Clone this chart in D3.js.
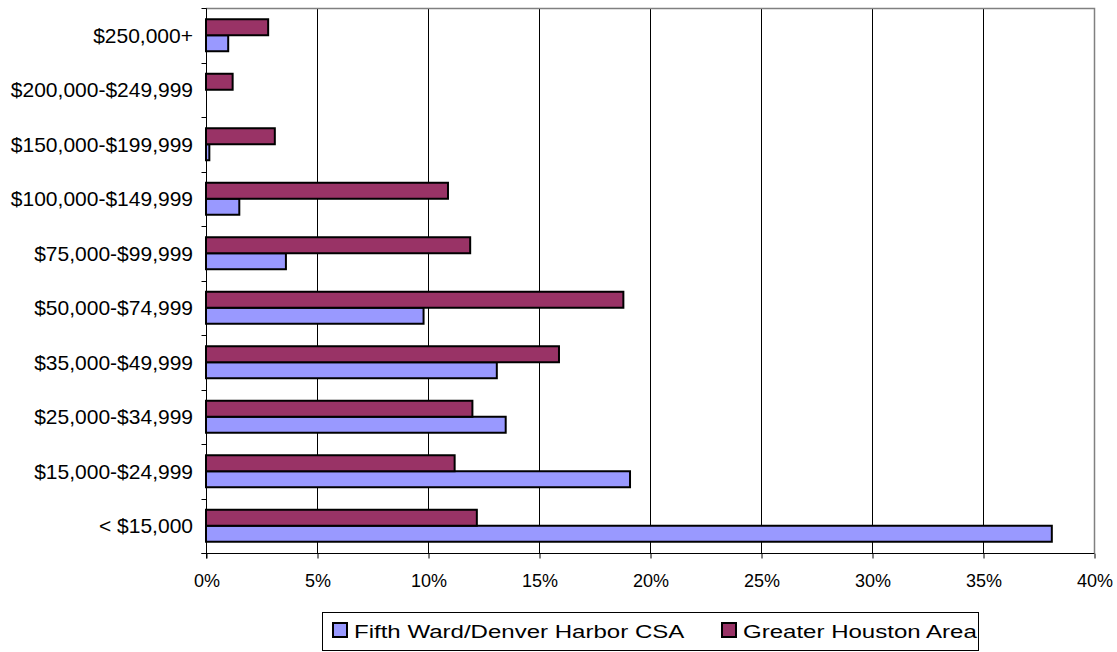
<!DOCTYPE html>
<meta charset="utf-8">
<style>

body {
  margin: 0;
  background: #fff;
  font-family: "Liberation Sans", Arial, sans-serif;
}

.bar { stroke: #000; stroke-width: 2px; }
.grid line { stroke: #000; stroke-width: 1px; }
.axis path, .axis line { stroke: #000; stroke-width: 1px; fill: none; }
.ylab text { font-size: 21px; fill: #000; }
.legend text { font-size: 18.5px; fill: #000; }

</style>
<body>
<script src="https://d3js.org/d3.v7.min.js"></script>
<script>

// income brackets, bottom to top
var categories = ["< $15,000", "$15,000-$24,999", "$25,000-$34,999", "$35,000-$49,999",
  "$50,000-$74,999", "$75,000-$99,999", "$100,000-$149,999", "$150,000-$199,999",
  "$200,000-$249,999", "$250,000+"];

var seriesNames = ["Fifth Ward/Denver Harbor CSA", "Greater Houston Area"];
var fifthWard = [38.1, 19.1, 13.5, 13.1, 9.8, 3.6, 1.5, 0.15, 0, 1.0];
var houston   = [12.2, 11.2, 12.0, 15.9, 18.8, 11.9, 10.9, 3.1, 1.2, 2.8];
var colors = ["#9999FF", "#993366"];
var xTicks = [0, 5, 10, 15, 20, 25, 30, 35, 40];

var W = 1117, H = 652;
var plotL = 206, plotR = 1094, plotT = 8, plotB = 553;

var svg = d3.select("body").append("svg")
    .attr("width", W)
    .attr("height", H);

var x = d3.scaleLinear().domain([0, 40]).range([plotL, plotR]);

var y = d3.scaleBand()
    .domain(categories)
    .range([plotB, plotT])
    .paddingInner(0.413)
    .paddingOuter(0.2065);

// Houston bar sits above the Fifth Ward bar in each group
var sub = d3.scaleBand()
    .domain([1, 0])
    .range([0, y.bandwidth()]);

// gridlines
svg.append("g").attr("class", "grid")
  .selectAll("line")
  .data(xTicks.slice(1, -1))
  .enter().append("line")
    .attr("x1", function(d) { return x(d) + 0.5; })
    .attr("x2", function(d) { return x(d) + 0.5; })
    .attr("y1", plotT)
    .attr("y2", plotB);

// plot border top / right (grey)
svg.append("path")
    .attr("d", "M" + plotL + "," + (plotT + 0.5) + "H" + (plotR + 0.5) + "V" + plotB)
    .attr("fill", "none")
    .attr("stroke", "#808080")
    .attr("stroke-width", 1.5);

// bars
var rows = categories.map(function(c, i) { return {cat: c, vals: [fifthWard[i], houston[i]]}; });

var g = svg.selectAll(".row")
    .data(rows)
  .enter().append("g")
    .attr("class", "row")
    .attr("transform", function(d) { return "translate(0," + y(d.cat) + ")"; });

g.selectAll("rect")
    .data(function(d) { return d.vals.map(function(v, k) { return {k: k, v: v}; }); })
  .enter().filter(function(d) { return d.v > 0; }).append("rect")
    .attr("class", "bar")
    .attr("x", x(0))
    .attr("y", function(d) { return sub(d.k); })
    .attr("width", function(d) { return x(d.v) - x(0); })
    .attr("height", sub.bandwidth())
    .attr("fill", function(d) { return colors[d.k]; });

// x axis
var xAxis = svg.append("g")
    .attr("class", "axis")
    .attr("transform", "translate(0.5," + (plotB + 0.5) + ")")
    .call(d3.axisBottom(x).tickValues(xTicks).tickSize(5).tickSizeOuter(0)
      .tickFormat(function(d) { return d + "%"; }));
xAxis.select(".domain").attr("d", "M" + (plotL - 5) + ",0H" + plotR);
xAxis.selectAll("text")
    .attr("dy", 0).attr("y", 33)
    .attr("fill", "#000")
    .style("font-size", "18px")
    .style("font-family", "'Liberation Sans', Arial, sans-serif");

// y axis line + ticks at band boundaries
var step = y.step();
var yAxis = svg.append("g")
    .attr("class", "axis")
    .attr("transform", "translate(0.5,0.5)");
yAxis.append("line")
    .attr("x1", plotL).attr("x2", plotL)
    .attr("y1", plotT).attr("y2", plotB + 5);
yAxis.selectAll(".bt")
    .data(d3.range(categories.length + 1))
  .enter().append("line")
    .attr("class", "bt")
    .attr("x1", plotL - 5).attr("x2", plotL)
    .attr("y1", function(i) { return Math.round(plotB - i * step); })
    .attr("y2", function(i) { return Math.round(plotB - i * step); });

// category labels
svg.append("g")
    .attr("class", "ylab")
  .selectAll("text")
    .data(categories)
  .enter().append("text")
    .attr("x", 193)
    .attr("y", function(d) { return y(d) + y.bandwidth() / 2; })
    .attr("dy", "0.36em")
    .attr("text-anchor", "end")
    .text(function(d) { return d; });

// legend
var legend = svg.append("g").attr("class", "legend");
legend.append("rect")
    .attr("x", 322.5).attr("y", 612.5)
    .attr("width", 656).attr("height", 38)
    .attr("fill", "#fff")
    .attr("stroke", "#000")
    .attr("stroke-width", 1);

var legX = [333, 722];
var item = legend.selectAll(".item")
    .data(seriesNames)
  .enter().append("g")
    .attr("class", "item")
    .attr("transform", function(d, i) { return "translate(" + legX[i] + ",623)"; });

item.append("rect")
    .attr("width", 14).attr("height", 14)
    .attr("fill", function(d, i) { return colors[i]; })
    .attr("stroke", "#000")
    .attr("stroke-width", 2);

// legend text is drawn wide in the original
item.append("text")
    .attr("transform", "translate(21,15) scale(1.3,1)")
    .text(function(d) { return d; });

</script>
</body>
